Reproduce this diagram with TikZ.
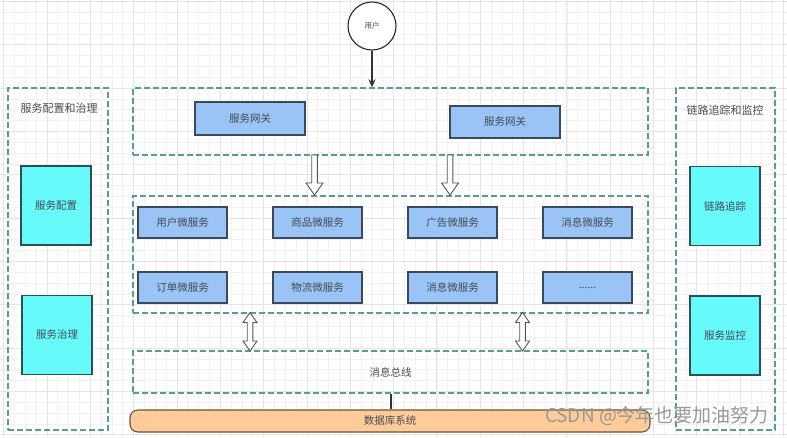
\documentclass[tikz,border=0pt]{standalone}
\usepackage{fontspec}
\setmainfont{Noto Sans CJK SC}
\usetikzlibrary{calc,arrows.meta}
\definecolor{framec}{RGB}{88,158,142}
\definecolor{msfill}{RGB}{153,196,245}
\definecolor{msdraw}{RGB}{58,72,96}
\definecolor{cyfill}{RGB}{102,250,250}
\definecolor{cydraw}{RGB}{45,80,85}
\definecolor{dbfill}{RGB}{255,204,153}
\definecolor{dbdraw}{RGB}{100,85,65}
\definecolor{txt}{RGB}{70,75,85}
\definecolor{arrowc}{RGB}{85,85,85}
\tikzset{
  frame/.style={draw=framec, line width=1.4pt, dash pattern=on 6pt off 3pt, inner sep=0pt},
  msbox/.style={draw=msdraw, fill=msfill, line width=1.1pt, minimum width=89pt, minimum height=31pt, inner sep=0pt, text=txt, font=\fontsize{10.5}{12}\selectfont},
  cybox/.style={draw=cydraw, fill=cyfill, line width=1.1pt, minimum width=70pt, minimum height=79pt, inner sep=0pt, text=txt, font=\fontsize{10.5}{12}\selectfont},
  lbl/.style={text=txt, font=\fontsize{10.5}{12}\selectfont, inner sep=0pt},
  hollow/.style={draw=arrowc, fill=white, line width=0.9pt, line join=miter},
  minorgrid/.style={draw=black!5, line width=0.4pt},
  majorgrid/.style={draw=black!10, line width=0.5pt},
}
\newcommand{\downhollow}[3]{% x, ytop, ybottom
  \draw[hollow] ({#1-2.8},#2) -- ({#1+2.8},#2) -- ({#1+2.8},{#3-12}) -- ({#1+8.5},{#3-12}) -- (#1,#3) -- ({#1-8.5},{#3-12}) -- ({#1-2.8},{#3-12}) -- cycle;}
\newcommand{\dblhollow}[3]{% x, ytop, ybottom
  \draw[hollow] (#1,#2) -- ({#1+7},{#2+10}) -- ({#1+2.8},{#2+10}) -- ({#1+2.8},{#3-10}) -- ({#1+7},{#3-10}) -- (#1,#3) -- ({#1-7},{#3-10}) -- ({#1-2.8},{#3-10}) -- ({#1-2.8},{#2+10}) -- ({#1-7},{#2+10}) -- cycle;}
\begin{document}
\begin{tikzpicture}[x=1pt,y=-1pt]
\useasboundingbox (0,0) rectangle (787,437);
\fill[white] (0,0) rectangle (787,437);
% background grid
\foreach \i in {-12,...,60} {\draw[minorgrid] ({133.5+10.83*\i},0) -- ++(0,437);}
\foreach \j in {-8,...,32} {\draw[minorgrid] (0,{88+10.83*\j}) -- ++(787,0);}
\foreach \i in {-3,...,15} {\draw[majorgrid] ({133.5+43.32*\i},0) -- ++(0,437);}
\foreach \j in {-2,...,8} {\draw[majorgrid] (0,{88+43.32*\j}) -- ++(787,0);}

% frames
\node[frame, minimum width=515pt, minimum height=67pt] (gwframe) at (390.5,121.5) {};
\node[frame, minimum width=515pt, minimum height=117pt] (msframe) at (390.5,254.5) {};
\node[frame, minimum width=515pt, minimum height=42pt, lbl] (busframe) at (390.5,372) {消息总线};
\node[frame, minimum width=100pt, minimum height=342pt] (leftframe) at (58,259) {};
\node[frame, minimum width=99pt, minimum height=342pt] (rightframe) at (725.5,259) {};
\node[lbl, font=\fontsize{11}{13}\selectfont] (lefttitle) at (59,108) {服务配置和治理};
\node[lbl, font=\fontsize{11}{13}\selectfont] (righttitle) at (725,110) {链路追踪和监控};

% user
\node[circle, draw=black!85, line width=1.1pt, minimum size=48pt, fill=white, lbl, font=\fontsize{7.5}{9}\selectfont] (user) at (372,26) {用户};
\draw[line width=1.1pt, draw=black!80, -{Stealth[length=8pt,width=7pt]}] (user.south) -- (user.south |- gwframe.north);

% gateways
\node[msbox, minimum width=110pt, minimum height=33pt] (gw1) at (250,118.5) {服务网关};
\node[msbox, minimum width=110pt, minimum height=32pt] (gw2) at (505,122) {服务网关};

% micro services
\node[msbox] (ms1) at (182.5,222.5) {用户微服务};
\node[msbox] (ms2) at (317.5,222.5) {商品微服务};
\node[msbox] (ms3) at (452.5,222.5) {广告微服务};
\node[msbox] (ms4) at (587.5,222.5) {消息微服务};
\node[msbox] (ms5) at (182.5,287.5) {订单微服务};
\node[msbox] (ms6) at (317.5,287.5) {物流微服务};
\node[msbox] (ms7) at (452.5,287.5) {消息微服务};
\node[msbox] (ms8) at (587.5,287.5) {......};

% side boxes
\node[cybox] (cfg) at (56,205.5) {服务配置};
\node[cybox] (gov) at (57,335) {服务治理};
\node[cybox] (trace) at (725,206) {链路追踪};
\node[cybox] (mon) at (725,335.5) {服务监控};

% hollow arrows
\downhollow{314.5}{155}{195}
\downhollow{450}{155}{195}
\dblhollow{250}{312.5}{351}
\dblhollow{522.5}{312.5}{351}

% database
\node[draw=dbdraw, fill=dbfill, line width=1.1pt, rounded corners=8pt, minimum width=520pt, minimum height=22pt, lbl] (db) at (390,421) {数据库系统};
\draw[line width=1.1pt, draw=black!80] (busframe.south -| 391,0) -- (db.north -| 391,0);

% watermark
\node[text=black!40, font=\fontsize{19}{22}\selectfont, inner sep=0pt] (wm) at (657,416) {CSDN @今年也要加油努力};
\end{tikzpicture}
\end{document}
